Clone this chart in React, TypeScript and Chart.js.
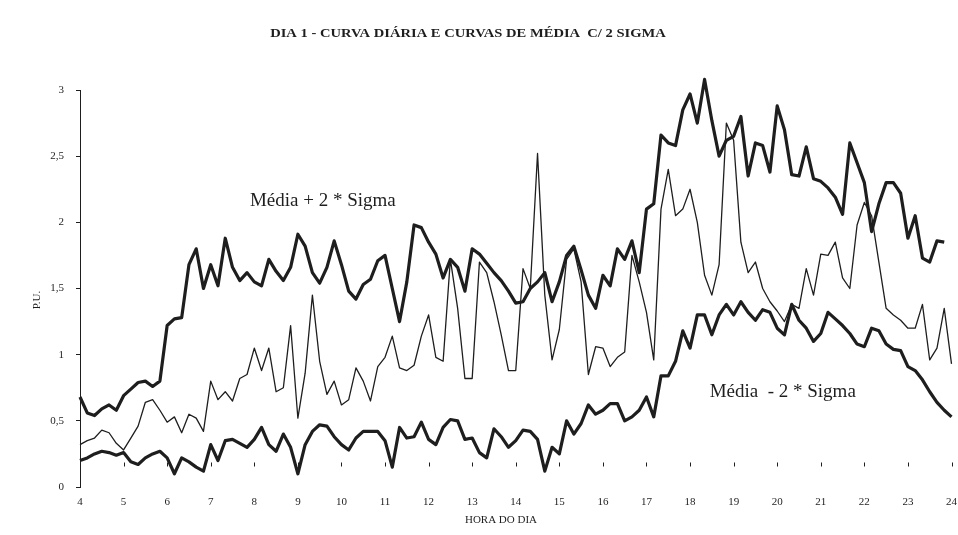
import { useEffect, useRef } from 'react';
import { Chart, registerables } from 'chart.js';

Chart.register(...registerables);

const TITLE = 'DIA 1 - CURVA DIÁRIA E CURVAS DE MÉDIA  C/ 2 SIGMA';
const X_TITLE = 'HORA DO DIA';
const Y_TITLE = 'P.U.';
const LABEL_UPPER = 'Média + 2 * Sigma';
const LABEL_LOWER = 'Média  - 2 * Sigma';

// 10-minute time grid from 4:00 to 24:00 (hours)
const TIMES: number[] = Array.from({ length: 121 }, (_, i) => 4 + i / 6);
const HOUR_MARKS = [5, 6, 7, 8, 9, 10, 11, 12, 13, 14, 15, 16, 17, 18, 19, 20, 21, 22, 23, 24];

// Média + 2 * Sigma
const UPPER: (number | null)[] = [
  0.68, 0.56, 0.54, 0.59, 0.62, 0.58, 0.69, 0.74, 0.79, 0.80,
  0.76, 0.80, 1.22, 1.27, 1.28, 1.68, 1.80, 1.50, 1.68, 1.52,
  1.88, 1.66, 1.56, 1.62, 1.55, 1.52, 1.72, 1.63, 1.56, 1.66,
  1.91, 1.82, 1.62, 1.54, 1.66, 1.86, 1.68, 1.48, 1.42, 1.53,
  1.57, 1.71, 1.75, 1.50, 1.25, 1.55, 1.98, 1.96, 1.85, 1.76,
  1.58, 1.72, 1.66, 1.48, 1.80, 1.76, 1.69, 1.62, 1.56, 1.48,
  1.39, 1.40, 1.50, 1.55, 1.62, 1.40, 1.55, 1.75, 1.82, 1.64,
  1.45, 1.35, 1.60, 1.52, 1.80, 1.72, 1.86, 1.62, 2.10, 2.14,
  2.66, 2.60, 2.58, 2.85, 2.97, 2.75, 3.08, 2.77, 2.50, 2.62,
  2.65, 2.80, 2.35, 2.60, 2.58, 2.38, 2.88, 2.70, 2.36, 2.35,
  2.57, 2.33, 2.31, 2.26, 2.19, 2.06, 2.60, 2.45, 2.30, 1.93,
  2.14, 2.30, 2.30, 2.22, 1.88, 2.05, 1.73, 1.70, 1.86, 1.85,
  null,
];

// Curva diária
const DAILY: (number | null)[] = [
  0.32, 0.35, 0.37, 0.43, 0.41, 0.33, 0.28, 0.37, 0.46, 0.64,
  0.66, 0.58, 0.49, 0.53, 0.41, 0.55, 0.52, 0.42, 0.80, 0.66,
  0.72, 0.65, 0.82, 0.85, 1.05, 0.88, 1.05, 0.72, 0.75, 1.22,
  0.52, 0.86, 1.45, 0.95, 0.70, 0.80, 0.62, 0.66, 0.90, 0.80,
  0.65, 0.91, 0.98, 1.14, 0.90, 0.88, 0.92, 1.14, 1.30, 0.98,
  0.95, 1.72, 1.35, 0.82, 0.82, 1.70, 1.62, 1.40, 1.15, 0.88,
  0.88, 1.65, 1.50, 2.52, 1.45, 0.96, 1.19, 1.72, 1.80, 1.55,
  0.85, 1.06, 1.05, 0.91, 0.98, 1.02, 1.75, 1.55, 1.32, 0.96,
  2.10, 2.40, 2.05, 2.10, 2.25, 2.00, 1.60, 1.45, 1.68, 2.75,
  2.62, 1.85, 1.62, 1.70, 1.50, 1.40, 1.33, 1.25, 1.38, 1.35,
  1.65, 1.45, 1.76, 1.75, 1.85, 1.58, 1.50, 1.98, 2.15, 2.05,
  1.70, 1.35, 1.30, 1.26, 1.20, 1.20, 1.38, 0.96, 1.05, 1.35,
  0.93,
];

// Média - 2 * Sigma
const LOWER: (number | null)[] = [
  0.20, 0.22, 0.25, 0.27, 0.26, 0.24, 0.26, 0.19, 0.17, 0.22,
  0.25, 0.27, 0.22, 0.10, 0.22, 0.19, 0.15, 0.12, 0.32, 0.20,
  0.35, 0.36, 0.33, 0.30, 0.36, 0.45, 0.32, 0.27, 0.40, 0.30,
  0.10, 0.32, 0.42, 0.47, 0.46, 0.38, 0.32, 0.28, 0.37, 0.42,
  0.42, 0.42, 0.35, 0.15, 0.45, 0.37, 0.38, 0.49, 0.36, 0.32,
  0.45, 0.51, 0.50, 0.36, 0.37, 0.26, 0.22, 0.44, 0.38, 0.30,
  0.35, 0.43, 0.42, 0.36, 0.12, 0.30, 0.25, 0.50, 0.40, 0.48,
  0.62, 0.55, 0.58, 0.63, 0.63, 0.50, 0.53, 0.58, 0.68, 0.53,
  0.84, 0.84, 0.95, 1.18, 1.05, 1.30, 1.30, 1.15, 1.30, 1.38,
  1.30, 1.40, 1.32, 1.26, 1.34, 1.32, 1.20, 1.15, 1.38, 1.26,
  1.20, 1.10, 1.16, 1.32, 1.27, 1.22, 1.16, 1.08, 1.06, 1.20,
  1.18, 1.08, 1.04, 1.03, 0.91, 0.88, 0.81, 0.72, 0.64, 0.58,
  0.53,
];

// label anchors in data coordinates [hour, P.U.]
const UPPER_LABEL_AT = [7.9, 2.12];
const LOWER_LABEL_AT = [18.45, 0.68];

const INK = '#1e1e1e';
const SERIF = '"Liberation Serif", "DejaVu Serif", serif';

const textPlugin = {
  id: 'texts',
  afterDatasetsDraw(chart: any) {
    const { ctx, scales } = chart;
    const x = scales.x;
    const y = scales.y;
    ctx.save();
    ctx.fillStyle = INK;
    ctx.strokeStyle = INK;

    // title
    ctx.save();
    ctx.font = `bold 13px ${SERIF}`;
    ctx.textAlign = 'center';
    ctx.textBaseline = 'middle';
    ctx.translate(468, 34);
    ctx.scale(1.12, 1);
    ctx.fillText(TITLE, 0, 0);
    ctx.restore();

    // axis titles
    ctx.font = `11px ${SERIF}`;
    ctx.textAlign = 'center';
    ctx.textBaseline = 'middle';
    ctx.fillText(X_TITLE, 501, 520);
    ctx.save();
    ctx.translate(37, 300);
    ctx.rotate(-Math.PI / 2);
    ctx.fillText(Y_TITLE, 0, 0);
    ctx.restore();

    // series labels
    ctx.font = `19px ${SERIF}`;
    ctx.textAlign = 'left';
    ctx.textBaseline = 'alphabetic';
    ctx.fillText(LABEL_UPPER, x.getPixelForValue(UPPER_LABEL_AT[0]), y.getPixelForValue(UPPER_LABEL_AT[1]));
    ctx.fillText(LABEL_LOWER, x.getPixelForValue(LOWER_LABEL_AT[0]), y.getPixelForValue(LOWER_LABEL_AT[1]));

    // small hour marks above the labels
    ctx.lineWidth = 1;
    const my = y.getPixelForValue(0.17);
    HOUR_MARKS.forEach((h) => {
      const px = Math.round(x.getPixelForValue(h)) + 0.5;
      ctx.beginPath();
      ctx.moveTo(px, my - 2);
      ctx.lineTo(px, my + 2);
      ctx.stroke();
    });
    ctx.restore();
  },
};

export default function App() {
  const ref = useRef<HTMLCanvasElement | null>(null);

  useEffect(() => {
    if (!ref.current) return;
    const mk = (arr: (number | null)[]) => TIMES.map((t, i) => ({ x: t, y: arr[i] }));
    const common = { borderColor: INK, pointRadius: 0, tension: 0, borderJoinStyle: 'round', clip: false };
    const chart = new Chart(ref.current, {
      type: 'line',
      data: {
        datasets: [
          { ...common, label: LABEL_UPPER, data: mk(UPPER), borderWidth: 3.2 },
          { ...common, label: 'Curva diária', data: mk(DAILY), borderWidth: 1.3 },
          { ...common, label: LABEL_LOWER, data: mk(LOWER), borderWidth: 3.2 },
        ] as any,
      },
      options: {
        animation: false,
        responsive: false,
        layout: { padding: { top: 90, right: 0, left: 0, bottom: 0 } },
        plugins: { legend: { display: false }, tooltip: { enabled: false }, title: { display: false } },
        scales: {
          x: {
            type: 'linear',
            min: 4,
            max: 24,
            ticks: { stepSize: 1, autoSkip: false, maxRotation: 0, padding: 1, color: INK, font: { family: SERIF, size: 11 } },
            grid: { display: false },
            border: { display: false },
            title: { display: false },
            afterFit: (s: any) => { s.height = 48; },
          },
          y: {
            min: 0,
            max: 3,
            ticks: {
              stepSize: 0.5,
              padding: 12,
              color: INK,
              font: { family: SERIF, size: 11 },
              callback: (v: any) => String(v).replace('.', ','),
            },
            grid: { drawOnChartArea: false, tickLength: 4, color: INK },
            border: { display: true, color: INK, width: 1 },
            title: { display: false },
            afterFit: (s: any) => { s.width = 80; },
          },
        },
      } as any,
      plugins: [textPlugin],
    });
    return () => chart.destroy();
  }, []);

  return (
    <div style={{ position: 'fixed', left: 0, top: 0, width: 958, height: 535, background: '#ffffff' }}>
      <canvas ref={ref} width={958} height={535} style={{ width: 958, height: 535, display: 'block' }} />
    </div>
  );
}
